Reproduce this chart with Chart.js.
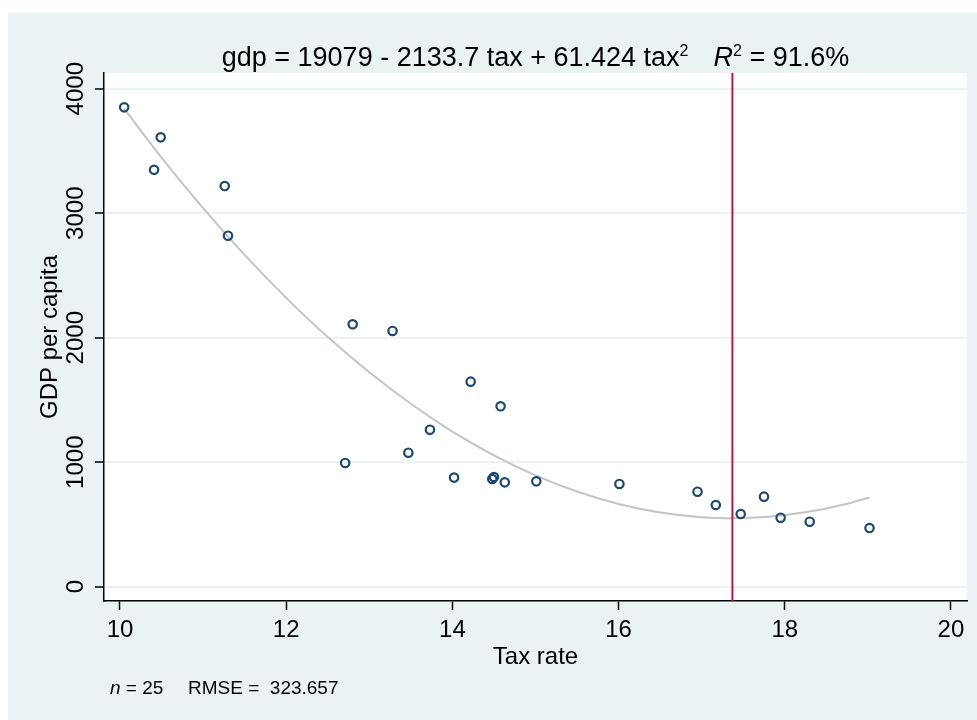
<!DOCTYPE html>
<html>
<head>
<meta charset="utf-8">
<script src="https://cdn.jsdelivr.net/npm/chart.js@4.4.1/dist/chart.umd.min.js"></script>
<style>
    html, body { margin: 0; padding: 0; background: #ffffff; }
    #gdpChart { display: block; }
</style>
</head>
<body>
<canvas id="gdpChart" width="977" height="720"></canvas>
<script>
/* ------------------------------
   DATA
--------------------------------*/

let taxRate = [10.05, 10.49, 10.41, 11.26, 11.30, 12.80, 13.28, 12.71, 14.22, 14.58,
               13.73, 13.47, 14.02, 14.48, 14.50, 14.63, 15.01, 16.01, 16.95, 17.17,
               17.47, 17.75, 17.95, 18.30, 19.02];
let gdpPerCapita = [3850, 3609, 3349, 3218, 2819, 2108, 2054, 994, 1647, 1449,
                    1261, 1076, 876, 865, 881, 838, 846, 825, 763, 656,
                    584, 723, 554, 522, 471];

// quadratic fit curve
let fitTax = [10.05, 10.5, 11, 11.5, 12, 12.5, 13, 13.5, 14, 14.5,
              15, 15.5, 16, 16.5, 17, 17.37, 17.8, 18.3, 18.7, 19.02];
let fitGdp = [3840, 3447, 3041, 2665, 2320, 2005, 1722, 1469, 1246, 1055,
              894, 764, 664, 596, 558, 550, 561, 603, 658, 717];

// vertical marker at the curve's minimum
let vertexTax = 17.37;

let xTicks = [10, 12, 14, 16, 18, 20];
let yTicks = [0, 1000, 2000, 3000, 4000];

let xRange = [9.8075, 20.193];
let yRange = [-115, 4126];

/* ------------------------------
   COLOURS / FONTS
--------------------------------*/

const FONT = "'Liberation Sans', Arial, Helvetica, sans-serif";
const BLUISH = "#eaf2f3";
const NAVY = "#1a476f";

/* ------------------------------
   BACKGROUND PLUGIN
--------------------------------*/

const backdrop = {
    id: "backdrop",
    beforeDraw(chart) {
        let ctx = chart.ctx;
        let a = chart.chartArea;
        ctx.save();
        ctx.fillStyle = "#ffffff";
        ctx.fillRect(0, 0, chart.width, chart.height);
        ctx.fillStyle = BLUISH;
        ctx.fillRect(8, 13, chart.width - 8, chart.height - 13);
        ctx.fillStyle = "#ffffff";
        ctx.fillRect(a.left, a.top, a.right - a.left, a.bottom - a.top);
        ctx.restore();
    }
};

/* ------------------------------
   TEXT PLUGIN (labels, titles, note)
--------------------------------*/

function drawRuns(ctx, runs, cx, y) {
    let total = 0;
    runs.forEach(r => {
        if (r.gap) { total += r.gap; return; }
        ctx.font = r.font;
        r.w = ctx.measureText(r.text).width;
        total += r.w;
    });
    let x = cx - total / 2;
    runs.forEach(r => {
        if (r.gap) { x += r.gap; return; }
        ctx.font = r.font;
        ctx.fillText(r.text, x, y + (r.dy || 0));
        x += r.w;
    });
}

const statText = {
    id: "statText",
    afterDraw(chart) {
        let ctx = chart.ctx;
        let a = chart.chartArea;
        let xs = chart.scales.x;
        let ys = chart.scales.y;
        let cx = (a.left + a.right) / 2;
        let cy = (a.top + a.bottom) / 2;

        ctx.save();
        ctx.fillStyle = "#000000";
        ctx.textBaseline = "alphabetic";

        // x tick labels
        ctx.font = "24px " + FONT;
        ctx.textAlign = "center";
        xTicks.forEach(v => ctx.fillText(String(v), xs.getPixelForValue(v), 637));

        // y tick labels, rotated
        yTicks.forEach(v => {
            ctx.save();
            ctx.translate(83, ys.getPixelForValue(v));
            ctx.rotate(-Math.PI / 2);
            ctx.fillText(String(v), 0, 0);
            ctx.restore();
        });

        // axis titles
        ctx.fillText("Tax rate", cx, 664);
        ctx.save();
        ctx.translate(57, cy);
        ctx.rotate(-Math.PI / 2);
        ctx.fillText("GDP per capita", 0, 0);
        ctx.restore();

        // title
        ctx.textAlign = "left";
        drawRuns(ctx, [
            { text: "gdp = 19079 - 2133.7 tax + 61.424 tax", font: "27px " + FONT },
            { text: "2", font: "16px " + FONT, dy: -10 },
            { gap: 25 },
            { text: "R", font: "italic 27px " + FONT },
            { text: "2", font: "16px " + FONT, dy: -10 },
            { text: " = 91.6%", font: "27px " + FONT }
        ], cx, 66);

        // note
        ctx.font = "italic 19px " + FONT;
        ctx.fillText("n", 110, 694);
        let nw = ctx.measureText("n").width;
        ctx.font = "19px " + FONT;
        ctx.fillText(" = 25", 110 + nw, 694);
        ctx.fillText("RMSE =  323.657", 188, 694);

        ctx.restore();
    }
};

/* ------------------------------
   CHART
--------------------------------*/

let ctx = document.getElementById("gdpChart");

let gdpChart = new Chart(ctx, {
    type: "scatter",
    data: {
        datasets: [
            {
                label: "GDP per capita",
                data: taxRate.map((t, i) => ({ x: t, y: gdpPerCapita[i] })),
                pointStyle: "circle",
                pointRadius: 4.2,
                pointBorderWidth: 2.2,
                pointBorderColor: NAVY,
                pointBackgroundColor: "rgba(0,0,0,0)"
            },
            {
                label: "Minimum",
                data: [{ x: vertexTax, y: yRange[0] }, { x: vertexTax, y: yRange[1] }],
                showLine: true,
                pointRadius: 0,
                borderColor: "#cf1040",
                borderWidth: 2
            },
            {
                label: "Fitted values",
                data: fitTax.map((t, i) => ({ x: t, y: fitGdp[i] })),
                showLine: true,
                pointRadius: 0,
                borderColor: "#c4c4c4",
                borderWidth: 2,
                cubicInterpolationMode: "monotone"
            }
        ]
    },
    options: {
        responsive: false,
        devicePixelRatio: 1,
        animation: false,
        layout: { padding: { left: 95, right: 10, top: 73, bottom: 110 } },
        plugins: {
            legend: { display: false },
            tooltip: { enabled: false },
            title: { display: false }
        },
        scales: {
            x: {
                type: "linear",
                min: xRange[0],
                max: xRange[1],
                afterBuildTicks: s => { s.ticks = xTicks.map(v => ({ value: v })); },
                ticks: { display: false },
                grid: {
                    drawOnChartArea: false,
                    drawTicks: true,
                    tickLength: 9,
                    tickColor: "#000000",
                    tickWidth: 1.5
                },
                border: { color: "#000000", width: 1.5 }
            },
            y: {
                type: "linear",
                min: yRange[0],
                max: yRange[1],
                afterBuildTicks: s => { s.ticks = yTicks.map(v => ({ value: v })); },
                ticks: { display: false },
                grid: {
                    color: BLUISH,
                    lineWidth: 2,
                    drawTicks: true,
                    tickLength: 9,
                    tickColor: "#000000",
                    tickWidth: 1.5
                },
                border: { color: "#000000", width: 1.5 }
            }
        }
    },
    plugins: [backdrop, statText]
});
</script>
</body>
</html>
